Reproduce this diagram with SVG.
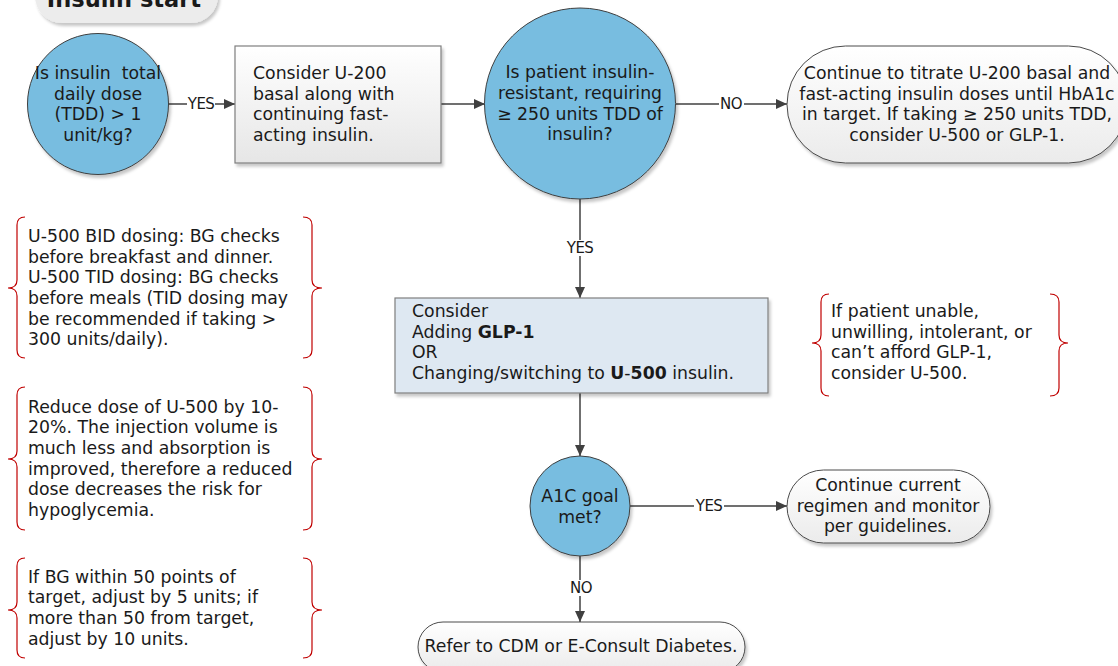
<svg xmlns="http://www.w3.org/2000/svg" width="1118" height="666" viewBox="0 0 1118 666">
<style>
  .t { font-family: "DejaVu Sans", Verdana, sans-serif; font-size: 17.3px; fill: #1a1a1a; }
  .c { text-anchor: middle; }
  .b { font-weight: bold; }
  .lbl { font-family: "DejaVu Sans", Verdana, sans-serif; font-size: 15px; fill: #1a1a1a; text-anchor: middle; letter-spacing: -0.6px; }
  .dec { fill: #78bde0; stroke: #3f3f3f; stroke-width: 1; }
  .proc { fill: url(#gGray); stroke: #7f7f7f; stroke-width: 1.2; }
  .term { fill: url(#gTerm); stroke: #4a4a4a; stroke-width: 1; }
  .conn { stroke: #404040; stroke-width: 1.5; fill: none; marker-end: url(#arr); }
  .brace { stroke: #c00000; stroke-width: 1.2; fill: none; }
  .lb { fill: #ffffff; }
</style>
<defs>
  <linearGradient id="gGray" x1="0" y1="0" x2="0" y2="1">
    <stop offset="0" stop-color="#ffffff"/>
    <stop offset="1" stop-color="#e6e6e6"/>
  </linearGradient>
  <linearGradient id="gTerm" x1="0" y1="0" x2="0" y2="1">
    <stop offset="0" stop-color="#ffffff"/>
    <stop offset="1" stop-color="#ebebeb"/>
  </linearGradient>
  <filter id="sh" x="-10%" y="-10%" width="130%" height="130%">
    <feDropShadow dx="2" dy="3" stdDeviation="1.5" flood-color="#000000" flood-opacity="0.22"/>
  </filter>
  <marker id="arr" markerUnits="userSpaceOnUse" markerWidth="12" markerHeight="12" refX="11" refY="6" orient="auto">
    <path d="M0,1 L11,6 L0,11 z" fill="#404040"/>
  </marker>
</defs>

<g id="title">
  <rect x="35" y="-32" width="183" height="55" rx="27" fill="#ececec" filter="url(#sh)"/>
  <text class="t b c" x="124" y="7" style="font-size:22.5px">Insulin start</text>
</g>

<g id="connectors">
  <line class="conn" x1="168" y1="104" x2="235" y2="104"/>
  <rect class="lb" x="187" y="96" width="28" height="16"/>
  <text class="lbl" x="201" y="109">YES</text>

  <line class="conn" x1="441" y1="104" x2="485" y2="104"/>

  <line class="conn" x1="676" y1="104" x2="787" y2="104"/>
  <rect class="lb" x="719" y="96" width="25" height="16"/>
  <text class="lbl" x="731" y="109">NO</text>

  <line class="conn" x1="580" y1="199" x2="580" y2="298"/>
  <rect class="lb" x="565" y="240" width="30" height="16"/>
  <text class="lbl" x="580" y="253">YES</text>

  <line class="conn" x1="580" y1="393" x2="580" y2="456"/>

  <line class="conn" x1="630" y1="506" x2="787" y2="506"/>
  <rect class="lb" x="694" y="498" width="30" height="16"/>
  <text class="lbl" x="709" y="511">YES</text>

  <line class="conn" x1="580" y1="556" x2="580" y2="622"/>
  <rect class="lb" x="568" y="580" width="25" height="16"/>
  <text class="lbl" x="581" y="593">NO</text>
</g>

<g id="q1">
  <circle class="dec" cx="98" cy="104" r="70.5" filter="url(#sh)"/>
  <text class="t c" x="98" y="79" xml:space="preserve">Is insulin  total</text>
  <text class="t c" x="98" y="100">daily dose</text>
  <text class="t c" x="98" y="120">(TDD) &gt; 1</text>
  <text class="t c" x="98" y="141">unit/kg?</text>
</g>

<g id="u200">
  <rect class="proc" x="235" y="46" width="206" height="117" filter="url(#sh)"/>
  <text class="t" x="253" y="79">Consider U-200</text>
  <text class="t" x="253" y="100">basal along with</text>
  <text class="t" x="253" y="120">continuing fast-</text>
  <text class="t" x="253" y="141">acting insulin.</text>
</g>

<g id="q2">
  <circle class="dec" cx="580" cy="103.5" r="95.5" filter="url(#sh)"/>
  <text class="t c" x="580" y="78">Is patient insulin-</text>
  <text class="t c" x="580" y="99">resistant, requiring</text>
  <text class="t c" x="580" y="120">≥ 250 units TDD of</text>
  <text class="t c" x="580" y="140">insulin?</text>
</g>

<g id="titrate">
  <rect class="term" x="787" y="46" width="340" height="117" rx="58.5" filter="url(#sh)"/>
  <text class="t c" x="957" y="79">Continue to titrate U-200 basal and</text>
  <text class="t c" x="957" y="100">fast-acting insulin doses until HbA1c</text>
  <text class="t c" x="957" y="120">in target. If taking ≥ 250 units TDD,</text>
  <text class="t c" x="957" y="141">consider U-500 or GLP-1.</text>
</g>

<g id="glp1">
  <rect x="395" y="298" width="373" height="95" fill="#dee8f2" stroke="#7f7f7f" stroke-width="1.2" filter="url(#sh)"/>
  <text class="t" x="412" y="317">Consider</text>
  <text class="t" x="412" y="338">Adding <tspan class="b">GLP-1</tspan></text>
  <text class="t" x="412" y="358">OR</text>
  <text class="t" x="412" y="379">Changing/switching to <tspan class="b">U</tspan>-<tspan class="b">500</tspan> insulin.</text>
</g>

<g id="q3">
  <circle class="dec" cx="580" cy="506" r="50" filter="url(#sh)"/>
  <text class="t c" x="580" y="502">A1C goal</text>
  <text class="t c" x="580" y="523">met?</text>
</g>

<g id="continue">
  <rect class="term" x="787" y="470" width="203" height="73" rx="36.5" filter="url(#sh)"/>
  <text class="t c" x="888" y="491">Continue current</text>
  <text class="t c" x="888" y="512">regimen and monitor</text>
  <text class="t c" x="888" y="532">per guidelines.</text>
</g>

<g id="refer">
  <rect class="term" x="418" y="622" width="327" height="50" rx="25" filter="url(#sh)"/>
  <text class="t c" x="581" y="652">Refer to CDM or E-Consult Diabetes.</text>
</g>

<g id="note1">
  <path class="brace" d="M25,217 Q17,217 17,225 L17,280 Q17,288 8,288 Q17,288 17,296 L17,350 Q17,358 25,358"/>
  <path class="brace" d="M303,217 Q312,217 312,225 L312,280 Q312,288 322,288 Q312,288 312,296 L312,350 Q312,358 303,358"/>
  <text class="t" x="28" y="242">U-500 BID dosing: BG checks</text>
  <text class="t" x="28" y="263">before breakfast and dinner.</text>
  <text class="t" x="28" y="283">U-500 TID dosing: BG checks</text>
  <text class="t" x="28" y="304">before meals (TID dosing may</text>
  <text class="t" x="28" y="325">be recommended if taking &gt;</text>
  <text class="t" x="28" y="345">300 units/daily).</text>
</g>

<g id="note2">
  <path class="brace" d="M25,387 Q17,387 17,395 L17,451 Q17,459 8,459 Q17,459 17,467 L17,522 Q17,530 25,530"/>
  <path class="brace" d="M303,387 Q312,387 312,395 L312,451 Q312,459 322,459 Q312,459 312,467 L312,522 Q312,530 303,530"/>
  <text class="t" x="28" y="413">Reduce dose of U-500 by 10-</text>
  <text class="t" x="28" y="433">20%. The injection volume is</text>
  <text class="t" x="28" y="454">much less and absorption is</text>
  <text class="t" x="28" y="475">improved, therefore a reduced</text>
  <text class="t" x="28" y="495">dose decreases the risk for</text>
  <text class="t" x="28" y="516">hypoglycemia.</text>
</g>

<g id="note3">
  <path class="brace" d="M25,558 Q17,558 17,566 L17,602 Q17,610 8,610 Q17,610 17,618 L17,650 Q17,658 25,658"/>
  <path class="brace" d="M303,558 Q312,558 312,566 L312,602 Q312,610 322,610 Q312,610 312,618 L312,650 Q312,658 303,658"/>
  <text class="t" x="28" y="583">If BG within 50 points of</text>
  <text class="t" x="28" y="603">target, adjust by 5 units; if</text>
  <text class="t" x="28" y="624">more than 50 from target,</text>
  <text class="t" x="28" y="645">adjust by 10 units.</text>
</g>

<g id="note4">
  <path class="brace" d="M829,294 Q821,294 821,302 L821,335 Q821,343 812,343 Q821,343 821,351 L821,388 Q821,396 829,396"/>
  <path class="brace" d="M1050,294 Q1059,294 1059,302 L1059,335 Q1059,343 1068,343 Q1059,343 1059,351 L1059,388 Q1059,396 1050,396"/>
  <text class="t" x="831" y="317">If patient unable,</text>
  <text class="t" x="831" y="338">unwilling, intolerant, or</text>
  <text class="t" x="831" y="358">can’t afford GLP-1,</text>
  <text class="t" x="831" y="379">consider U-500.</text>
</g>
</svg>
